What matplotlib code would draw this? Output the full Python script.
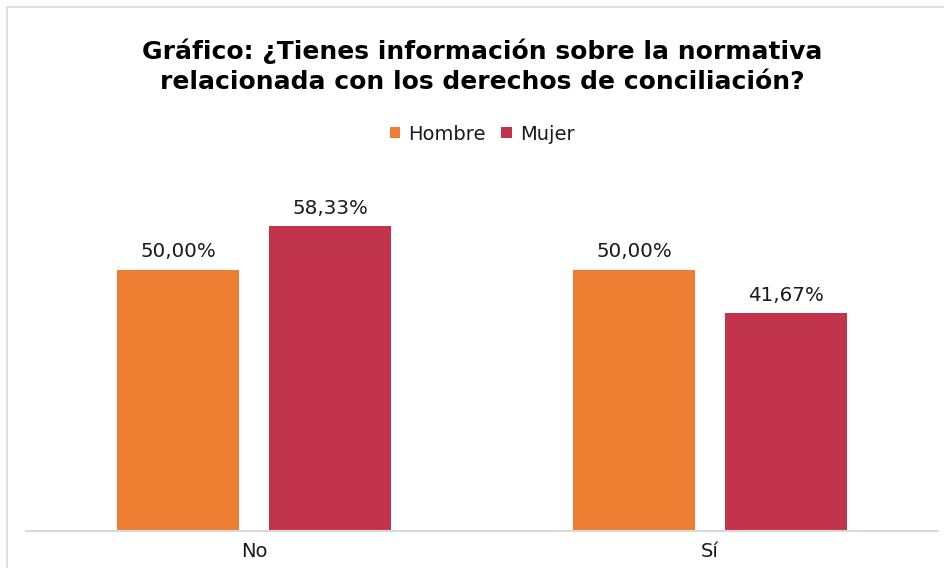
import matplotlib
matplotlib.use("Agg")
import matplotlib.pyplot as plt
import numpy as np
from matplotlib.patches import Rectangle

categories = ["No", "Sí"]
series_names = ["Hombre", "Mujer"]
hombre = [50.00, 50.00]
mujer = [58.33, 41.67]
colors = ["#ED7D31", "#C1344C"]

plt.rcParams['font.family'] = ['DejaVu Sans']

fig = plt.figure(figsize=(9.44, 5.68), dpi=100)
fig.patches.append(Rectangle((7/944, -0.1), 1.2, 1 - 7/568 + 0.1, transform=fig.transFigure,
                             fill=False, edgecolor="#D9D9D9", linewidth=1.2))
ax = fig.add_axes([26/944, 1 - 531/568, 912/944, (531 - 165)/568])

x = np.arange(len(categories))
w = 0.2675
off = 0.1667
b1 = ax.bar(x - off, hombre, w, color=colors[0], label=series_names[0])
b2 = ax.bar(x + off, mujer, w, color=colors[1], label=series_names[1])

for bars, vals in ((b1, hombre), (b2, mujer)):
    for rect, v in zip(bars, vals):
        ax.text(rect.get_x() + rect.get_width() / 2, v + 1.6,
                f"{v:.2f}%".replace(".", ","), ha="center", va="bottom",
                fontsize=14.3, color="#1a1a1a")

ax.set_xlim(-0.5, 1.5)
ax.set_ylim(0, 70)
ax.set_yticks([])
ax.set_xticks(x)
ax.set_xticklabels(categories, fontsize=14, color="#1a1a1a")
ax.tick_params(axis="x", length=0, pad=8)
for s in ("top", "right", "left"):
    ax.spines[s].set_visible(False)
ax.spines["bottom"].set_color("#D9D9D9")
ax.spines["bottom"].set_linewidth(1.5)

fig.text(482/944, 1 - 66/568,
         "Gráfico: ¿Tienes información sobre la normativa\nrelacionada con los derechos de conciliación?",
         ha="center", va="center", fontsize=18, fontweight="bold", linespacing=1.3)

leg = fig.legend(handles=[b1, b2], labels=series_names, loc="center",
                 bbox_to_anchor=(482/944, 1 - 134/568), ncol=2, frameon=False,
                 fontsize=14, handlelength=0.55, handleheight=0.55,
                 handletextpad=0.4, columnspacing=0.8)
for t in leg.get_texts():
    t.set_color("#1a1a1a")

fig.savefig("out.png", dpi=100)
